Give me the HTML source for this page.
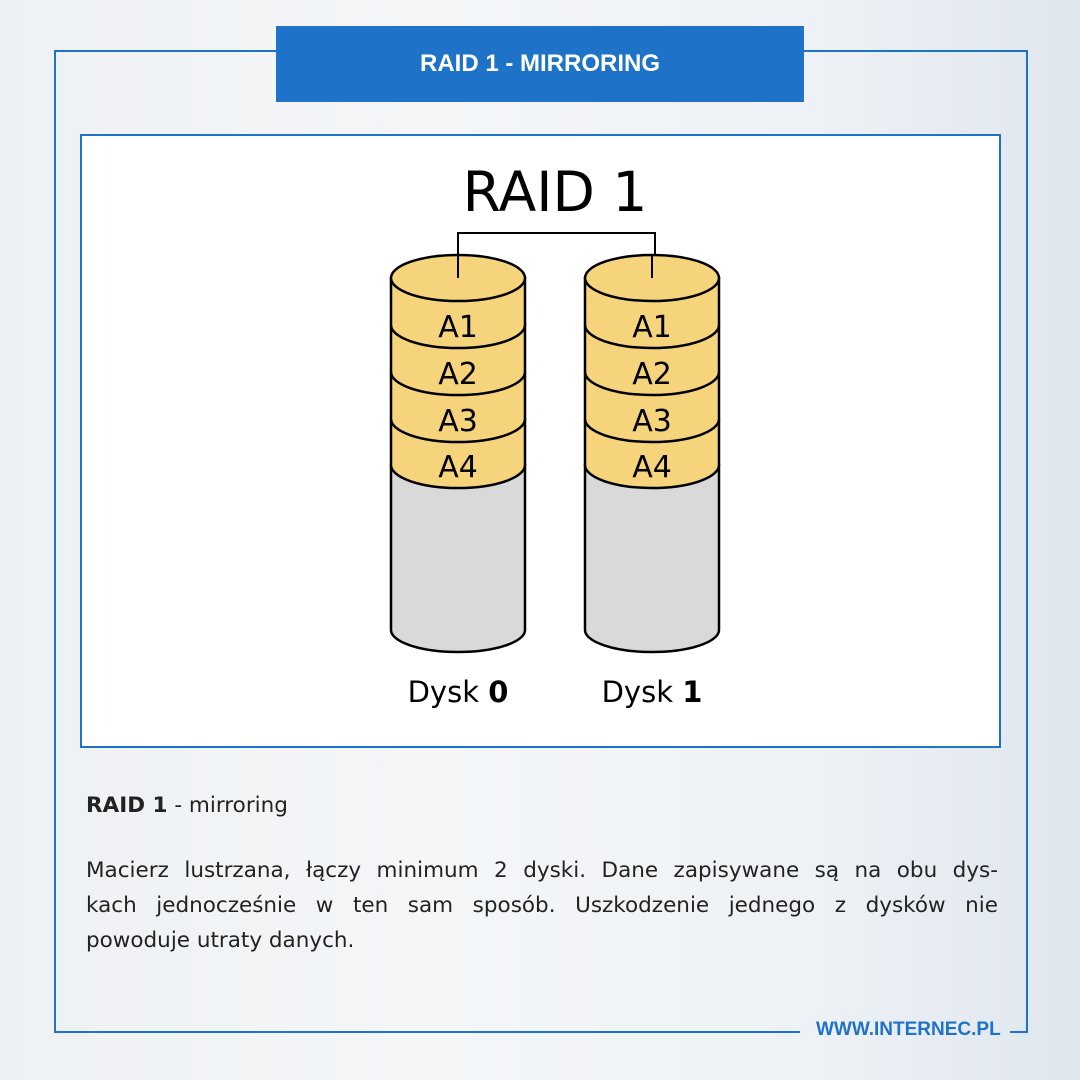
<!DOCTYPE html>
<html><head><meta charset="utf-8"><style>
html,body{margin:0;padding:0}
body{width:1080px;height:1080px;position:relative;overflow:hidden;background:linear-gradient(90deg,#eef1f4 0%,#f4f6f8 40%,#eef2f6 75%,#dfe6ee 100%);font-family:"Liberation Sans",sans-serif}
.frame{position:absolute;left:54px;top:50px;width:970px;height:981px;border:2px solid #1e73c8;border-bottom:none}
.title{position:absolute;left:276px;top:26px;width:528px;height:76px;background:#1e73c8;color:#fff;font-weight:bold;font-size:24px;text-align:center;line-height:76px}
.box{position:absolute;left:80px;top:134px;width:917px;height:610px;background:#fff;border:2px solid #1e73c8}
.txt{position:absolute;left:86px;width:912px;font-size:21.5px;font-family:"DejaVu Sans",sans-serif;color:#222;line-height:35px;text-align:justify}
.j{text-align:justify;text-align-last:justify;white-space:nowrap}
.fl{position:absolute;top:1031px;height:2px;background:#1e73c8}
.web{position:absolute;left:816px;top:1019px;font-size:19px;font-weight:bold;color:#1e73c8}
</style></head><body>
<div class="frame"></div>
<div class="title">RAID 1 - MIRRORING</div>
<div class="box"></div>
<svg style="position:absolute;left:0;top:0" width="1080" height="1080">
<text x="555" y="211" font-size="55" text-anchor="middle" font-family="DejaVu Sans" fill="#000">RAID 1</text>
<polyline points="458,280 458,233 655,233 655,280" fill="none" stroke="#000" stroke-width="2"/>
<g id="c" stroke="#000" stroke-width="2.5">
<path d="M391,465 V630 A67,22 0 0 0 525,630 V465 Z" fill="#d9d9d9"/>
<path d="M391,278 V465 A67,23 0 0 0 525,465 V278 Z" fill="#f5d47c"/>
<path d="M391,419 A67,23 0 0 0 525,419 M391,372 A67,23 0 0 0 525,372 M391,325 A67,23 0 0 0 525,325" fill="none"/>
<ellipse cx="458" cy="278" rx="67" ry="23" fill="#f5d47c"/>
<g font-family="DejaVu Sans" font-size="30" text-anchor="middle" stroke="none" fill="#000">
<text x="458" y="337">A1</text><text x="458" y="384">A2</text><text x="458" y="431">A3</text><text x="458" y="477">A4</text></g>
</g>
<use href="#c" transform="translate(194,0)"/>
<line x1="458" y1="255" x2="458" y2="278" stroke="#000" stroke-width="2"/>
<line x1="652" y1="255" x2="652" y2="278" stroke="#000" stroke-width="2"/>
<g font-family="DejaVu Sans" font-size="29" text-anchor="middle" fill="#000">
<text x="458" y="702">Dysk <tspan font-weight="bold">0</tspan></text>
<text x="652" y="702">Dysk <tspan font-weight="bold">1</tspan></text></g>
</svg>
<div class="txt" style="top:788px"><b>RAID 1</b> - mirroring</div>
<div class="txt" style="top:853px">
<div class="j">Macierz lustrzana, łączy minimum 2 dyski. Dane zapisywane są na obu dys-</div>
<div class="j">kach jednocześnie w ten sam sposób. Uszkodzenie jednego z dysków nie</div>
<div>powoduje utraty danych.</div>
</div>
<div class="fl" style="left:54px;width:746px"></div>
<div class="fl" style="left:1010px;width:16px"></div>
<div class="web">WWW.INTERNEC.PL</div>
</body></html>
